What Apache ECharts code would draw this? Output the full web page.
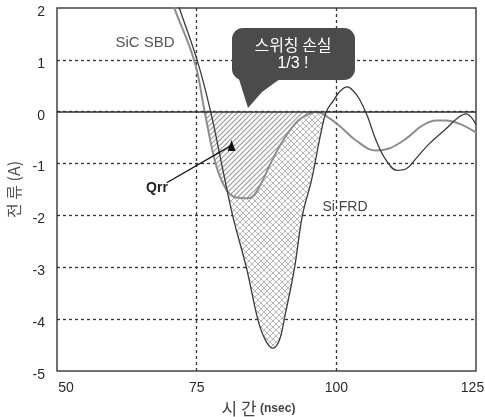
<!DOCTYPE html>
<html>
<head>
<meta charset="utf-8">
<script src="https://cdn.jsdelivr.net/npm/echarts@6/dist/echarts.min.js"></script>
<style>html,body{margin:0;padding:0;background:#fff}#c{width:485px;height:417px}</style>
</head>
<body>
<div id="c"></div>
<script>
// ---- data ----
const xTicks = [50, 75, 100, 125];
const yTicks = [-5, -4, -3, -2, -1, 0, 1, 2];
const timeFRD = [70.9, 71.96, 75.18, 77.5, 79.46, 81.43, 83.93, 85.89, 87.14, 88.57, 89.82, 90.71, 92.5, 93.93, 95.54, 96.43, 97.14, 98.2, 99.46, 100.7, 101.96, 103.04, 104.1, 105.54, 107.14, 108.93, 110.89, 112.5, 114.29, 116.61, 119.64, 121.61, 123.21, 124.1, 125];
const currentFRD = [2.33, 1.98, 0.96, 0, -1.0, -2.0, -3.02, -3.98, -4.37, -4.56, -4.40, -3.98, -3.02, -2.0, -1.33, -0.85, -0.46, 0, 0.21, 0.40, 0.48, 0.40, 0.25, -0.08, -0.56, -0.94, -1.13, -1.10, -0.90, -0.62, -0.33, -0.13, -0.04, -0.10, -0.25];
const timeSBD = [69.9, 71.07, 74.64, 76.43, 78.39, 80.18, 81.96, 84.11, 85.18, 86.61, 88.04, 89.82, 91.61, 93.39, 95.18, 96.43, 98.39, 100.54, 103.57, 107.14, 109.46, 112.5, 115.36, 117.86, 119.64, 121.96, 125];
const currentSBD = [2.33, 1.98, 0.96, 0, -1.0, -1.48, -1.65, -1.67, -1.62, -1.37, -1.04, -0.67, -0.37, -0.15, -0.04, 0, -0.10, -0.27, -0.56, -0.75, -0.71, -0.52, -0.27, -0.17, -0.17, -0.23, -0.40];
const qrrArrow = [[69.64, -1.37], [81.25, -0.65]];

function zip(xs, ys) { return xs.map((x, i) => [x, ys[i]]); }
// negative lobe between the first two zero crossings
function lobe(pts) {
  const z = [];
  pts.forEach((p, i) => { if (p[1] === 0) z.push(i); });
  return pts.slice(z[0], z[1] + 1);
}
const frd = zip(timeFRD, currentFRD);
const sbd = zip(timeSBD, currentSBD);

function hatch() {
  const c = document.createElement('canvas'); c.width = 5; c.height = 5;
  const g = c.getContext('2d');
  g.fillStyle = '#fff'; g.fillRect(0, 0, 5, 5);
  g.strokeStyle = '#9c9c9c'; g.lineWidth = 1.2;
  g.beginPath();
  g.moveTo(-1, 6); g.lineTo(6, -1);
  g.moveTo(-1, 1); g.lineTo(1, -1);
  g.moveTo(4, 6); g.lineTo(6, 4);
  g.stroke();
  return c;
}
function cross() {
  const c = document.createElement('canvas'); c.width = 6; c.height = 6;
  const g = c.getContext('2d');
  g.fillStyle = '#fff'; g.fillRect(0, 0, 6, 6);
  g.strokeStyle = '#b8b8b8'; g.lineWidth = 1;
  g.beginPath();
  g.moveTo(0, 0); g.lineTo(6, 6);
  g.moveTo(6, 0); g.lineTo(0, 6);
  g.stroke();
  return c;
}

const numFont = "'Liberation Sans Narrow', 'Liberation Sans', Arial, sans-serif";
const krFont = "'Noto Sans CJK KR', sans-serif";
const grid = { left: 57, right: 9, top: 8, bottom: 46 };
const numStyle = { fontSize: 14, fontFamily: numFont, color: '#2a2a2a' };

const chart = echarts.init(document.getElementById('c'), null, { renderer: 'canvas' });
chart.setOption({
  animation: false,
  backgroundColor: '#fff',
  grid: Object.assign({ show: true, outerBoundsMode: 'none', containLabel: false, borderColor: '#444', borderWidth: 1.5, backgroundColor: 'transparent' }, grid),
  xAxis: {
    type: 'value', min: xTicks[0], max: xTicks[xTicks.length - 1], interval: 25,
    axisLine: { show: false }, axisTick: { show: false },
    axisLabel: {
      margin: 10,
      formatter: v => v === xTicks[0] ? '{a|' + v + '}' : v === xTicks[xTicks.length - 1] ? '{b|' + v + '}' : '{v|' + v + '}',
      rich: {
        v: Object.assign({}, numStyle),
        a: Object.assign({ padding: [0, 0, 0, 18] }, numStyle),
        b: Object.assign({ padding: [0, 7, 0, 0] }, numStyle)
      }
    },
    splitLine: { show: true, showMinLine: false, showMaxLine: false, lineStyle: { color: '#333', width: 1.3, type: [3, 3] } },
    name: '{k|시 간} {n|(nsec)}', nameLocation: 'middle', nameGap: 28,
    nameTextStyle: {
      padding: [0, 16, 0, 0],
      rich: {
        k: { fontSize: 17, fontFamily: krFont, color: '#444' },
        n: { fontSize: 12, fontWeight: 'bold', fontFamily: "'Liberation Sans', Arial, sans-serif", color: '#444' }
      }
    }
  },
  yAxis: {
    type: 'value', min: yTicks[0], max: yTicks[yTicks.length - 1], interval: 1,
    axisLine: { show: false }, axisTick: { show: false },
    axisLabel: {
      margin: 12,
      formatter: v => '{v|' + v + '}',
      rich: { v: Object.assign({ padding: [8, 0, 0, 0] }, numStyle) }
    },
    splitLine: { show: true, showMinLine: false, showMaxLine: false, lineStyle: { color: '#333', width: 1.3, type: [3, 3] } },
    name: '전 류 (A)', nameLocation: 'middle', nameRotate: 90, nameGap: 29,
    nameTextStyle: { fontSize: 16, fontFamily: krFont, color: '#555' }
  },
  series: [
    {
      type: 'line', data: lobe(frd), smooth: 0.4, showSymbol: false, silent: true, z: 1,
      lineStyle: { width: 0, opacity: 0 },
      areaStyle: { color: { image: cross(), repeat: 'repeat' }, opacity: 1 }
    },
    {
      type: 'line', data: lobe(sbd), smooth: 0.4, showSymbol: false, silent: true, z: 2,
      lineStyle: { width: 0, opacity: 0 },
      areaStyle: { color: { image: hatch(), repeat: 'repeat' }, opacity: 1 }
    },
    {
      name: 'SiC SBD', type: 'line', data: sbd, smooth: 0.4, showSymbol: false, z: 3,
      lineStyle: { color: '#8e8e8e', width: 2 }
    },
    {
      name: 'Si FRD', type: 'line', data: frd, smooth: 0.4, showSymbol: false, z: 4,
      lineStyle: { color: '#3a3a3a', width: 1.3 },
      markLine: {
        silent: true, symbol: ['none', 'none'], animation: false,
        label: { show: false },
        data: [
          { yAxis: 0, lineStyle: { color: '#333', width: 1.6, type: 'solid' } },
          [
            { coord: qrrArrow[0], symbol: 'none', lineStyle: { color: '#111', width: 1.3, type: 'solid' } },
            { coord: qrrArrow[1], symbol: 'triangle', symbolSize: [8, 11], symbolRotate: 0 }
          ]
        ]
      }
    }
  ],
  graphic: [
    { type: 'text', x: 145, y: 43, style: { text: 'SiC SBD', fontSize: 15, fontFamily: "'Liberation Sans', Arial, sans-serif", fill: '#555', align: 'center', verticalAlign: 'middle' }, z: 10 },
    { type: 'text', x: 345, y: 207, style: { text: 'Si FRD', fontSize: 14, fontFamily: "'Liberation Sans', Arial, sans-serif", fill: '#444', align: 'center', verticalAlign: 'middle' }, z: 10 },
    { type: 'text', x: 157, y: 188, style: { text: 'Qrr', fontSize: 14, fontWeight: 'bold', fontFamily: "'Liberation Sans', Arial, sans-serif", fill: '#222', align: 'center', verticalAlign: 'middle' }, z: 10 },
    { type: 'rect', shape: { x: 232, y: 28, width: 123, height: 52, r: 11 }, style: { fill: '#4b4b4b' }, z: 10 },
    { type: 'polygon', shape: { points: [[238, 76], [284, 76], [262, 92], [248, 108]] }, style: { fill: '#4b4b4b' }, z: 10 },
    { type: 'text', x: 293, y: 45, style: { text: '스위칭 손실', fontSize: 16, fontFamily: krFont, fill: '#fff', align: 'center', verticalAlign: 'middle' }, z: 11 },
    { type: 'text', x: 293, y: 64, style: { text: '1/3 !', fontSize: 16, fontFamily: "'Liberation Sans', Arial, sans-serif", fill: '#fff', align: 'center', verticalAlign: 'middle' }, z: 11 }
  ]
});
</script>
</body>
</html>
